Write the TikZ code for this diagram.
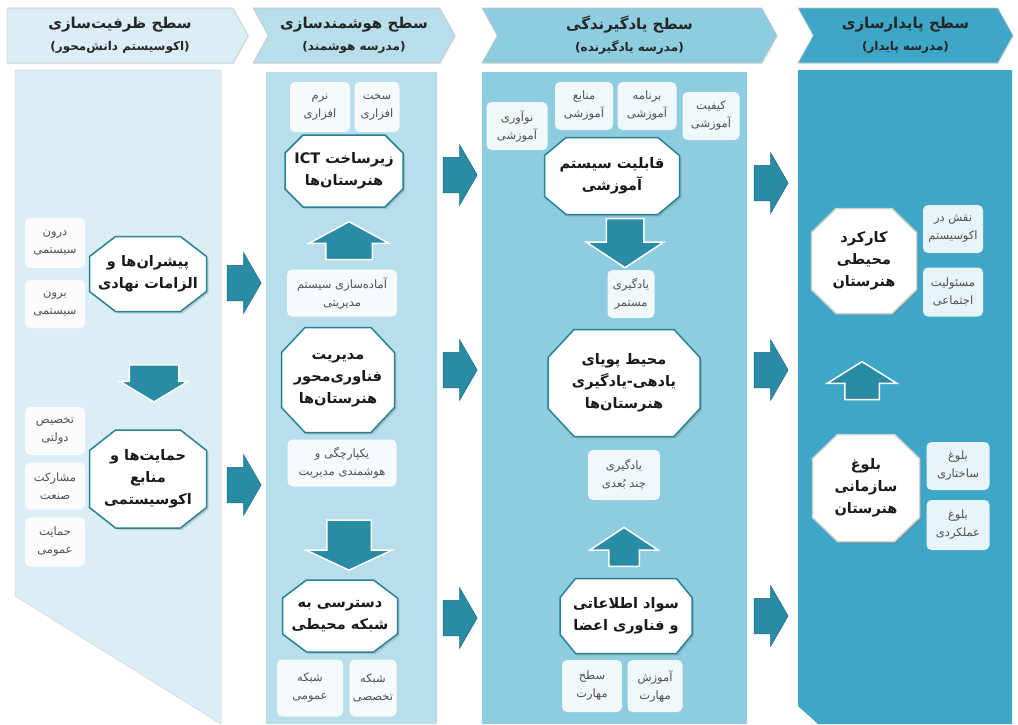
\documentclass[tikz,border=0pt]{standalone}
\usepackage{fontspec}
\newfontfamily\arabicfont[Script=Arabic]{DejaVu Sans}
\TeXXeTstate=1
\usepackage{tikz}
\usetikzlibrary{shapes.arrows,shapes.symbols,shadows,positioning}

\newcommand{\fa}[1]{\beginR #1\endR}
% octagon frame: [style], centre, half width, half height, chamfer x, chamfer y
\newcommand{\octbox}[6][]{%
  \filldraw[octframe,#1,shift={#2}] (-#3+#5,-#4) -- (#3-#5,-#4) -- (#3,-#4+#6) -- (#3,#4-#6)
    -- (#3-#5,#4) -- (-#3+#5,#4) -- (-#3,#4-#6) -- (-#3,-#4+#6) -- cycle;}

\definecolor{colA}{RGB}{220,238,245}
\definecolor{colB}{RGB}{183,222,234}
\definecolor{colC}{RGB}{141,205,223}
\definecolor{colD}{RGB}{62,166,198}
\definecolor{octline}{RGB}{36,130,148}
\definecolor{arrowfill}{RGB}{42,139,165}
\definecolor{arrowline}{RGB}{30,105,125}
\definecolor{itemtext}{RGB}{80,80,80}

\begin{document}
\begin{tikzpicture}[x=1pt, y=-1pt,
  octframe/.style={draw=octline, line width=1.5pt, fill=white,
    drop shadow={opacity=.3, shadow xshift=2pt, shadow yshift=-2pt}},
  octtext/.style={align=center, inner sep=0pt, text=black!90,
    font=\arabicfont\bfseries\fontsize{14.5}{22}\selectfont},
  item/.style={rectangle, rounded corners=5pt, fill=white, fill opacity=.88, text opacity=1,
    text=itemtext, align=center, inner sep=1pt, font=\arabicfont\fontsize{11.5}{18}\selectfont},
  head/.style={signal, signal to=east, signal pointer angle=122, draw=gray!45, line width=.6pt,
    align=center, inner sep=0pt, text=black!85, font=\arabicfont\bfseries\fontsize{15}{22}\selectfont,
    drop shadow={opacity=.15, shadow xshift=1pt, shadow yshift=-1pt}},
  flow/.style={single arrow, single arrow head extend=12.5pt, single arrow tip angle=120,
    minimum width=60pt, minimum height=34pt, inner xsep=0pt, inner ysep=17.5pt,
    fill=arrowfill, draw=arrowline, line width=.5pt},
  blockarrow/.style={single arrow, inner xsep=0pt, fill=arrowfill, draw=white, line width=1.5pt}]
\useasboundingbox (0,0) rectangle (1018,724);

% columns
\filldraw[fill=colA, draw=gray!35, line width=.5pt] (15,70) -- (221,70) -- (221,724) -- (15,596) -- cycle;
\fill[colB] (266,72) rectangle (437,724);
\fill[colC] (482,72) rectangle (747,724);
\fill[colD] (798,70) -- (1012,70) -- (1012,724) -- (818,724) -- (798,706) -- cycle;

% headers
\node[head, fill=colA, minimum width=241pt, minimum height=55pt] (h1) at (120,35.5)
  {\fa{سطح ظرفیت^^^^200cسازی}\\{\fontsize{12}{16}\selectfont\fa{(اکوسیستم دانش^^^^200cمحور)}}};
\node[head, signal from=west, fill=colB, minimum width=202pt, minimum height=55pt] (h2) at (354,35.5)
  {\fa{سطح هوشمندسازی}\\{\fontsize{12}{16}\selectfont\fa{(مدرسه هوشمند)}}};
\node[head, signal from=west, fill=colC, minimum width=295pt, minimum height=55pt] (h3) at (629.5,35.5)
  {\fa{سطح یادگیرندگی}\\{\fontsize{12}{16}\selectfont\fa{(مدرسه یادگیرنده)}}};
\node[head, signal from=west, fill=colD, minimum width=215pt, minimum height=55pt] (h4) at (905.5,35.5)
  {\fa{سطح پایدارسازی}\\{\fontsize{12}{16}\selectfont\fa{(مدرسه پایدار)}}};

% arrows between levels
\node[flow] (r1) at (239,283) {};
\node[flow] (r2) at (239,485) {};
\node[flow] (r3) at (455,175) {};
\node[flow] (r4) at (455,370) {};
\node[flow] (r5) at (455,618) {};
\node[flow] (r6) at (766,183) {};
\node[flow] (r7) at (766,370) {};
\node[flow] (r8) at (766,616) {};

% level 1
\octbox{(148,274)}{58.5}{37.5}{26}{20}
\node[octtext] (pio) at (148,274) {\fa{پیشران^^^^200cها و}\\\fa{الزامات نهادی}};
\octbox{(148,479)}{58.5}{49}{26}{20.5}
\node[octtext] (sup) at (148,479) {\fa{حمایت^^^^200cها و}\\\fa{منابع}\\\fa{اکوسیستمی}};
\node[item, minimum width=60pt, minimum height=50pt] (in1) at (55,243) {\fa{درون}\\\fa{سیستمی}};
\node[item, minimum width=60pt, minimum height=48pt, node distance=61pt] (out1) [below of = in1] {\fa{برون}\\\fa{سیستمی}};
\node[item, minimum width=60pt, minimum height=48pt] (gov) at (55,431) {\fa{تخصیص}\\\fa{دولتی}};
\node[item, minimum width=60pt, minimum height=47pt, node distance=55pt] (ind) [below of = gov] {\fa{مشارکت}\\\fa{صنعت}};
\node[item, minimum width=60pt, minimum height=49pt, node distance=56pt] (pub) [below of = ind] {\fa{حمایت}\\\fa{عمومی}};
\node[blockarrow, rotate=-90, minimum height=37pt, minimum width=67pt, inner ysep=24pt,
  single arrow head extend=9.5pt, single arrow tip angle=118] (d1) at (154,376) {};

% level 2
\node[item, minimum width=45pt, minimum height=50pt] (hw) at (377,107) {\fa{سخت}\\\fa{افزاری}};
\node[item, minimum width=60pt, minimum height=50pt, node distance=57pt] (sw) [left of = hw] {\fa{نرم}\\\fa{افزاری}};
\octbox{(344,171)}{59}{36}{18}{18}
\node[octtext] (ict) at (344,171) {\fa{زیرساخت \beginL ICT\endL}\\\fa{هنرستان^^^^200cها}};
\node[blockarrow, rotate=90, minimum height=38pt, minimum width=78pt, inner ysep=22.5pt,
  single arrow head extend=16.5pt, single arrow tip angle=123] (u1) at (349,247) {};
\node[item, minimum width=110pt, minimum height=47pt] (prep) at (342,293)
  {\fa{آماده^^^^200cسازی سیستم}\\\fa{مدیریتی}};
\octbox{(338,380)}{56.5}{52.5}{23.5}{25}
\node[octtext] (mgmt) at (338,380) {\fa{مدیریت}\\\fa{فناوری^^^^200cمحور}\\\fa{هنرستان^^^^200cها}};
\node[item, minimum width=109pt, minimum height=47pt] (integ) at (342,463)
  {\fa{یکپارچگی و}\\\fa{هوشمندی مدیریت}};
\node[blockarrow, rotate=-90, minimum height=50pt, minimum width=85pt, inner ysep=21.5pt,
  single arrow head extend=21pt, single arrow tip angle=130] (d2) at (349,540) {};
\octbox{(340,616)}{57.5}{36}{24}{18}
\node[octtext] (net) at (340,616) {\fa{دسترسی به}\\\fa{شبکه محیطی}};
\node[item, minimum width=66pt, minimum height=57pt] (gen) at (310,688) {\fa{شبکه}\\\fa{عمومی}};
\node[item, minimum width=47pt, minimum height=57pt, node distance=63pt] (spec) [right of = gen] {\fa{شبکه}\\\fa{تخصصی}};

% level 3
\node[item, minimum width=61pt, minimum height=48pt] (inno) at (517,126) {\fa{نوآوری}\\\fa{آموزشی}};
\node[item, minimum width=58pt, minimum height=48pt] (res) at (584,106) {\fa{منابع}\\\fa{آموزشی}};
\node[item, minimum width=59pt, minimum height=48pt] (prog) at (647,106) {\fa{برنامه}\\\fa{آموزشی}};
\node[item, minimum width=57pt, minimum height=48pt] (qual) at (711,116) {\fa{کیفیت}\\\fa{آموزشی}};
\octbox{(612,176)}{67.5}{38.5}{21.5}{18}
\node[octtext] (cap) at (612,176) {\fa{قابلیت سیستم}\\\fa{آموزشی}};
\node[blockarrow, rotate=-90, minimum height=49pt, minimum width=76pt, inner ysep=18pt,
  single arrow head extend=20pt, single arrow tip angle=113] (d3) at (625,237) {};
\node[item, minimum width=47pt, minimum height=48pt] (cont) at (631,294) {\fa{یادگیری}\\\fa{مستمر}};
\octbox{(624,383)}{76}{53.5}{26}{28}
\node[octtext] (env) at (624,383) {\fa{محیط پویای}\\\fa{یادهی-یادگیری}\\\fa{هنرستان^^^^200cها}};
\node[item, minimum width=72pt, minimum height=50pt] (multi) at (624,475) {\fa{یادگیری}\\\fa{چند بُعدی}};
\node[blockarrow, rotate=90, minimum height=39pt, minimum width=67pt, inner ysep=14.5pt,
  single arrow head extend=19pt, single arrow tip angle=113] (u2) at (624,552) {};
\octbox{(626,616)}{66}{37.5}{15.5}{19}
\node[octtext] (lit) at (626,616) {\fa{سواد اطلاعاتی}\\\fa{و فناوری اعضا}};
\node[item, minimum width=60pt, minimum height=52pt] (lev) at (592,686) {\fa{سطح}\\\fa{مهارت}};
\node[item, minimum width=55pt, minimum height=52pt, node distance=63pt] (train) [right of = lev] {\fa{آموزش}\\\fa{مهارت}};

% level 4
\octbox[draw=gray!35]{(864,261)}{52.5}{52.5}{24.5}{24}
\node[octtext] (func) at (864,261) {\fa{کارکرد}\\\fa{محیطی}\\\fa{هنرستان}};
\node[item, minimum width=60pt, minimum height=48pt] (role) at (953,229) {\fa{نقش در}\\\fa{اکوسیستم}};
\node[item, minimum width=60pt, minimum height=49pt, node distance=63pt] (resp) [below of = role] {\fa{مسئولیت}\\\fa{اجتماعی}};
\node[blockarrow, rotate=90, minimum height=38pt, minimum width=68pt, inner ysep=16.5pt,
  single arrow head extend=17.5pt, single arrow tip angle=116] (u3) at (862,386) {};
\octbox[draw=gray!35]{(866,488)}{53.5}{53.5}{25}{24}
\node[octtext] (mat) at (866,488) {\fa{بلوغ}\\\fa{سازمانی}\\\fa{هنرستان}};
\node[item, minimum width=63pt, minimum height=48pt] (str) at (958,466) {\fa{بلوغ}\\\fa{ساختاری}};
\node[item, minimum width=63pt, minimum height=50pt, node distance=59pt] (perf) [below of = str] {\fa{بلوغ}\\\fa{عملکردی}};
\end{tikzpicture}
\end{document}
